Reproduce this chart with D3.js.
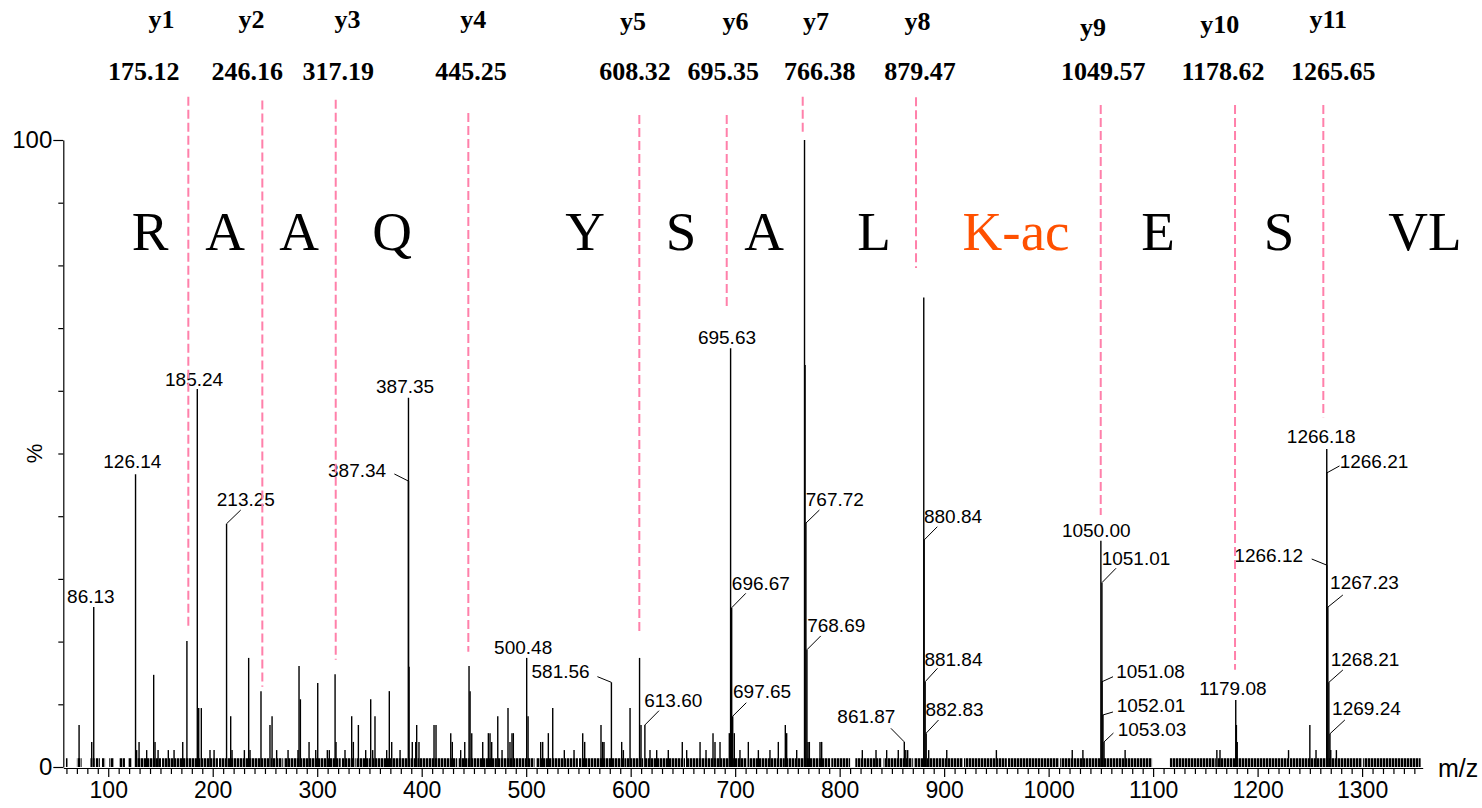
<!DOCTYPE html>
<html><head><meta charset="utf-8">
<script src="https://cdn.jsdelivr.net/npm/d3@7/dist/d3.min.js"></script>
<style>body{margin:0;background:#fff}svg{display:block}</style>
</head><body>
<svg id="c" width="1482" height="808"></svg>
<script>
// ---------------- DATA ----------------
const peakMz = [72.1,84.2,86.13,126.14,127.2,129.5,136.8,143.5,144.8,147.7,157.5,163,171.3,175.3,185.24,186.6,189.1,197.4,201.3,213.25,217.2,218.5,230.3,234.4,235.7,246.2,254.8,256.8,261.2,272.1,281.6,282.6,283.9,292.2,298.6,300.5,309.7,311.6,317.1,318,326.6,333,334.6,339.4,346.4,351.2,353.1,355.3,366.5,369,371.3,379.3,387.35,387.34,387.9,391,394.3,395.2,397.4,411.8,413.7,427.8,429.3,437.3,441.2,445.3,446.3,447.9,458.4,463.8,465.4,467,472.8,476.9,482.6,484.5,486.4,487.7,500.48,501.8,513.9,515.8,521.2,525.4,536.5,545.8,554.1,556,571.6,573.2,574.5,581.56,591.4,593,599.4,608.5,609.9,613.6,618.5,624.9,636,649.4,653.6,666.4,672.1,678.8,680.7,685.5,694.4,695.63,696.67,697.65,699.2,704.6,712.6,722.2,733.3,741.3,748,749.3,758.9,766.38,766.9,767.72,768.69,769.7,771,781.2,782.8,821.7,834.8,845,856.1,861.87,863.3,865.1,880.5,880.84,881.84,882.83,885.2,902.5,950,1022.6,1032.8,1050.00,1051.01,1051.08,1052.01,1053.03,1073.2,1161,1164,1179.08,1179.7,1180.5,1229.6,1250,1255.9,1266.18,1266.21,1266.12,1267.23,1268.21,1269.24,1270,1275.4];
const peakInt = [6.7,4.0,25.5,46.7,2.7,4.0,2.7,14.7,4.0,2.7,2.7,2.7,4.0,20.1,60.3,9.4,9.4,2.7,2.7,38.8,8.1,2.7,2.7,17.4,2.7,12.1,6.7,8.1,2.7,2.7,2.7,16.1,10.8,4.0,2.7,13.4,2.7,2.7,14.8,4.0,2.7,8.1,4.0,6.7,2.7,10.8,2.7,8.1,2.7,12.1,4.0,2.7,58.9,45.6,16,4.0,4.0,6.7,4.0,6.7,6.7,5.4,4.0,2.7,4.0,16.1,12.1,5.4,4.0,5.4,5.4,4.0,8.1,2.7,9.4,4.0,5.4,5.4,17.4,8.1,4.0,4.0,5.4,9.4,2.7,2.7,5.4,4.0,6.7,4.0,4.0,13.5,4.0,2.7,9.4,17.4,6.7,6.7,2.7,2.7,2.7,4.0,2.7,4.0,2.7,5.4,4.0,4.0,5.4,66.8,25.4,8.1,5.4,2.7,4.0,2.7,2.7,4.0,6.7,5.4,2.7,100,64.1,38.9,18.7,4.0,4.0,4.0,4.0,2.7,2.7,2.7,2.7,4.0,2.7,2.7,74.9,36.2,13.6,5.4,2.7,2.7,2.7,2.7,2.7,36.1,29.4,13.6,8.3,4.0,2.7,2.7,2.7,10.7,6.7,4.0,2.7,6.7,2.7,50.7,46.9,32.2,25.5,13.5,5.3,2.7,2.7];

// baseline noise: m/z ranges where dense low-level noise is present
const noiseStart = [59.5,70,83,88,94,101,110.5,119,125.5,151.5,206,255.5,268,323.5,336.5,353,396,435,473,509.5,550.5,594,613,653,698,712,748.5,792,815,842,871,919,961,1011,1116,1161,1231,1301];
const noiseEnd   = [61,74.5,87,92,97,105.5,116,122.5,150.5,205,254,267,322.5,335.5,352,395,434,472,508,549.5,593,612,652,697,711,747.5,791,810,840,870,918,960,1010,1099,1160,1230,1300,1356];
const noiseLevel = 1.4;

// labelled peaks
const labelText = ["86.13","126.14","185.24","213.25","387.35","387.34","500.48","581.56","613.60","695.63","696.67","697.65","767.72","768.69","861.87","880.84","881.84","882.83","1050.00","1051.01","1051.08","1052.01","1053.03","1179.08","1266.18","1266.21","1266.12","1267.23","1268.21","1269.24"];
const labelMz = [86.13,126.14,185.24,213.25,387.35,387.34,500.48,581.56,613.60,695.63,696.67,697.65,767.72,768.69,861.87,880.84,881.84,882.83,1050.00,1051.01,1051.08,1052.01,1053.03,1179.08,1266.18,1266.21,1266.12,1267.23,1268.21,1269.24];
const labelInt = [25.5,46.7,60.3,38.8,58.9,45.6,17.4,13.5,6.7,66.8,25.4,8.1,38.9,18.7,4.0,36.2,13.6,5.4,36.1,29.4,13.6,8.3,4.0,10.7,50.7,46.9,32.2,25.5,13.5,5.3];

// y-ion annotations
const ionNames = ["y1","y2","y3","y4","y5","y6","y7","y8","y9","y10","y11"];
const ionMz = ["175.12","246.16","317.19","445.25","608.32","695.35","766.38","879.47","1049.57","1178.62","1265.65"];
const ionMarkMz = [176.66,247.48,317.72,444.63,608.28,691.92,764.65,873.09,1049.86,1178.39,1262.89];
const ionMarkTop = [106.9,106.3,106.4,104.3,104.0,104.0,106.9,106.8,105.6,105.6,105.6];
const ionMarkBottom = [22.0,12.8,17.1,18.4,21.2,72.9,101.3,79.6,40.2,15.5,55.8];

// peptide sequence
const residues = ["R","A","A","Q","Y","S","A","L","K-ac","E","S","VL"];
const residueMz = [140.0,211.8,282.6,371.6,556.3,648.2,727.6,832.9,968.8,1104.7,1220.5,1360.2];
const modifiedResidue = "K-ac";

const xTickLabels = [100,200,300,400,500,600,700,800,900,1000,1100,1200,1300];
const yTickLabels = [0,100];
const xTitle = "m/z", yTitle = "%";

// ---------------- LAYOUT ----------------
const SANS = "'Liberation Sans', Arial, sans-serif";
const SERIF = "'Liberation Serif', 'Times New Roman', serif";
const PINK = "#ff80aa";

const x = d3.scaleLinear().domain([57, 1358]).range([63.3, 1422.7]);
const y = d3.scaleLinear().domain([0, 100]).range([767, 140]);

// label offsets (px) relative to peak apex: [textDx, textDy, leaderDx, leaderDy]
const labelLayout = [[-2.9,-4.4],[-3.2,-6.2],[-3.2,-3],[19.3,-18,14.2,-13.7],[-3.4,-4.4],[-51.4,-4.4,-14.1,-7.1],[-3.5,-3.9],[-50.8,-4.1,-14,-5.7],[28.4,-18.3,14.1,-14.3],[-3.6,-4.2],[29.2,-18.2,14.1,-14.4],[29.4,-17.9,13.6,-13.5],[28.9,-17.1,13.5,-13.1],[29.3,-18.1,13.8,-13.8],[-37.9,-18.6,-13.4,-13.6],[28.9,-16.7,13.2,-13.3],[28.3,-15.7,12.3,-13.4],[28.3,-17.1,12.3,-13.1],[-4.6,-4],[34.1,-17.7,14.1,-14.4],[48.5,-3.4,11,-5],[48,-3.3,10,-3],[48,-5.9,9.4,-8.9],[-2.8,-4.9],[-5.6,-5.8],[47.2,-4.7,12.7,-7],[-58,-3.4,-15,-6.1],[36.6,-17.8,15,-12.1],[36.2,-16.4,14,-12.4],[36.5,-18.8,14.9,-13.8]];
const ionNameDx = [-26.8,-10.8,11.8,5,-6.3,8.8,13.3,1.5,-7.7,-15.3,5];
const ionNumDx = [-44.6,-15,2.6,2.7,-4.3,-3.4,17,4,2.5,-12,10];
const ionNameY = [28,28,28,28,30,30,30,30,36,33,28];

const svg = d3.select("#c");
const defs = svg.append("defs");
const pat = defs.append("pattern").attr("id", "noiseTex").attr("patternUnits", "userSpaceOnUse")
  .attr("width", 3).attr("height", 12);
pat.append("rect").attr("width", 2.4).attr("height", 12).attr("fill", "#000");

// noise band
const noise = d3.range(noiseStart.length).map(i => ({a: noiseStart[i], b: noiseEnd[i]}));
svg.append("g").selectAll("rect").data(noise).join("rect")
  .attr("x", d => x(d.a)).attr("width", d => Math.max(1, x(d.b) - x(d.a)))
  .attr("y", y(noiseLevel)).attr("height", y(0) - y(noiseLevel))
  .attr("fill", "url(#noiseTex)");

// peaks
const peaks = peakMz.map((m, i) => ({m, v: peakInt[i]}));
svg.append("g").selectAll("line").data(peaks).join("line")
  .attr("x1", d => x(d.m)).attr("x2", d => x(d.m))
  .attr("y1", y(0)).attr("y2", d => y(d.v))
  .attr("stroke", "#000").attr("stroke-width", 1.4);

// axes
const xMinor = d3.range(60, 1351, 10).filter(v => !xTickLabels.includes(v));
const gx = svg.append("g").attr("transform", `translate(0,${y(0) + 1})`);
gx.call(d3.axisBottom(x).tickValues(xMinor).tickSize(6).tickFormat(""));
gx.call(g => g.select(".domain").remove());
const gx2 = svg.append("g").attr("transform", `translate(0,${y(0) + 1})`);
gx2.call(d3.axisBottom(x).tickValues(xTickLabels).tickSize(9).tickSizeOuter(0).tickPadding(5).tickFormat(d3.format("d")));
gx2.selectAll("text").attr("font-family", SANS).attr("font-size", 23).attr("fill", "#000");
gx2.selectAll("line, path").attr("stroke", "#000").attr("stroke-width", 1.2);
gx.selectAll("line").attr("stroke", "#000").attr("stroke-width", 1.2);

const yMinor = d3.range(10, 100, 10);
const gy = svg.append("g").attr("transform", `translate(${x(57)},0)`);
gy.call(d3.axisLeft(y).tickValues(yMinor).tickSize(5).tickFormat(""));
gy.call(g => g.select(".domain").remove());
const gy2 = svg.append("g").attr("transform", `translate(${x(57)},0)`);
gy2.call(d3.axisLeft(y).tickValues(yTickLabels).tickSize(10).tickSizeOuter(0).tickPadding(1).tickFormat(d3.format("d")));
gy2.selectAll("text").attr("font-family", SANS).attr("font-size", 24).attr("fill", "#000");
gy2.selectAll("line, path").attr("stroke", "#000").attr("stroke-width", 1.2);
gy.selectAll("line").attr("stroke", "#000").attr("stroke-width", 1.2);

svg.append("text").attr("x", 1438).attr("y", 777)
  .attr("font-family", SANS).attr("font-size", 25).text(xTitle);
svg.append("text").attr("transform", `translate(42,${y(50)}) rotate(-90)`)
  .attr("text-anchor", "middle").attr("font-family", SANS).attr("font-size", 22).text(yTitle);

// peak labels + leaders
const labels = labelText.map((t, i) => ({t, m: labelMz[i], v: labelInt[i], L: labelLayout[i]}));
const gl = svg.append("g");
labels.forEach(d => {
  const px = x(d.m), py = y(d.v);
  if (d.L.length > 2) {
    gl.append("line").attr("x1", px + d.L[2]).attr("y1", py + d.L[3])
      .attr("x2", px).attr("y2", py).attr("stroke", "#000").attr("stroke-width", 1);
  }
  gl.append("text").attr("x", px + d.L[0]).attr("y", py + d.L[1])
    .attr("text-anchor", "middle").attr("font-family", SANS).attr("font-size", 19)
    .attr("fill", "#000").text(d.t);
});

// ion marker dashed lines and labels
const ions = ionNames.map((n, i) => ({n, num: ionMz[i], m: ionMarkMz[i], top: ionMarkTop[i], bot: ionMarkBottom[i], i}));
svg.append("g").selectAll("line").data(ions).join("line")
  .attr("x1", d => x(d.m)).attr("x2", d => x(d.m))
  .attr("y1", d => y(d.top)).attr("y2", d => y(d.bot))
  .attr("stroke", PINK).attr("stroke-width", 2).attr("stroke-dasharray", "9,4");
const gi = svg.append("g").attr("font-family", SERIF).attr("font-weight", "bold").attr("font-size", 26).attr("text-anchor", "middle");
gi.selectAll("text.n").data(ions).join("text").attr("class", "n")
  .attr("x", d => x(d.m) + ionNameDx[d.i]).attr("y", d => ionNameY[d.i]).text(d => d.n);
gi.selectAll("text.v").data(ions).join("text").attr("class", "v")
  .attr("x", d => x(d.m) + ionNumDx[d.i]).attr("y", 80).text(d => d.num);

// sequence residues
svg.append("g").selectAll("text").data(residues.map((r, i) => ({r, m: residueMz[i]}))).join("text")
  .attr("x", d => x(d.m)).attr("y", 250).attr("text-anchor", "middle")
  .attr("font-family", SERIF).attr("font-size", 55)
  .attr("fill", d => d.r === modifiedResidue ? "#ff5000" : "#000")
  .text(d => d.r);
</script>
</body></html>
